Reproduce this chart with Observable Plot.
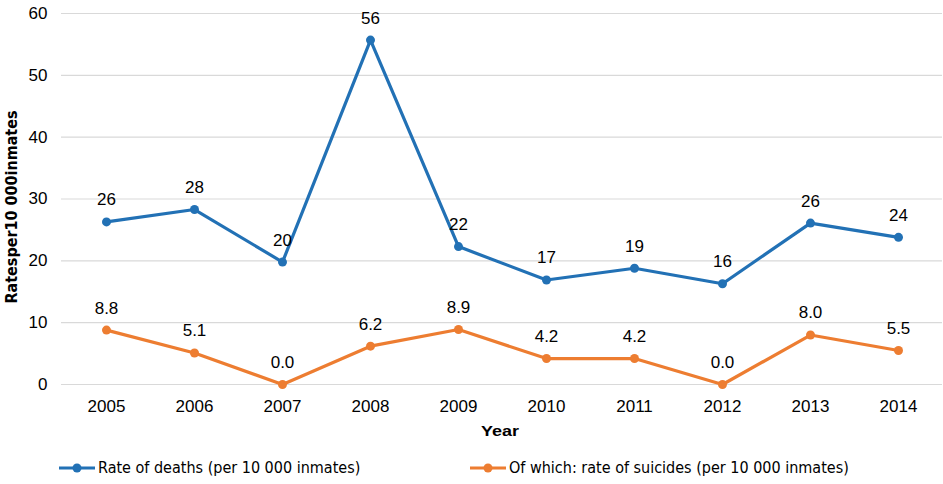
<!DOCTYPE html>
<html><head><meta charset="utf-8">
<script src="https://cdn.jsdelivr.net/npm/d3@7"></script>
<script src="https://cdn.jsdelivr.net/npm/@observablehq/plot@0.6"></script>
<style>
body{margin:0;background:#fff;font-family:"Liberation Sans",Arial,sans-serif;}
#wrap{position:relative;width:943px;height:484px;}
.leg{position:absolute;top:458px;display:flex;align-items:center;font-family:"Liberation Sans Narrow","DejaVu Sans Condensed",sans-serif;font-size:16px;color:#000;white-space:nowrap;}
.leg svg{margin-right:3px;}
</style>
</head><body><div id="wrap"><div id="chart"></div></div>
<script>
const years = ["2005","2006","2007","2008","2009","2010","2011","2012","2013","2014"];
const deathRates = [26.3, 28.3, 19.8, 55.7, 22.3, 16.9, 18.8, 16.3, 26.1, 23.8];
const deathLabels = ["26","28","20","56","22","17","19","16","26","24"];
const suicideRates = [8.8, 5.1, 0.0, 6.2, 8.9, 4.2, 4.2, 0.0, 8.0, 5.5];
const suicideLabels = ["8.8","5.1","0.0","6.2","8.9","4.2","4.2","0.0","8.0","5.5"];
const yTicks = [0, 10, 20, 30, 40, 50, 60];
const seriesNames = ["Rate of deaths (per 10 000 inmates)", "Of which: rate of suicides (per 10 000 inmates)"];
const seriesColors = ["#2271B5", "#ED7D31"];
const yTitle = "Ratesper10 000inmates";
const xTitle = "Year";

const deaths = years.map((y, i) => ({year: y, value: deathRates[i], label: deathLabels[i]}));
const suicides = years.map((y, i) => ({year: y, value: suicideRates[i], label: suicideLabels[i]}));

const W = 943, H = 445;
const chart = Plot.plot({
  width: W, height: H,
  marginLeft: 61, marginRight: 1, marginTop: 13, marginBottom: 61,
  style: {fontFamily: '"Liberation Sans", Arial, sans-serif', fontSize: "17px", color: "#000", background: "#fff"},
  x: {type: "point", domain: years, padding: 0.5, label: null},
  y: {domain: [0, 60], label: null},
  marks: [
    Plot.gridY(yTicks, {stroke: "#d9d9d9", strokeOpacity: 1, strokeWidth: 1.2}),
    Plot.axisY(yTicks, {tickSize: 0, tickPadding: 14, fontSize: 17, label: null}),
    Plot.axisX({tickSize: 0, tickPadding: 15, fontSize: 17, label: null}),
    Plot.line(deaths, {x: "year", y: "value", stroke: seriesColors[0], strokeWidth: 3.2}),
    Plot.dot(deaths, {x: "year", y: "value", r: 4.5, fill: seriesColors[0]}),
    Plot.line(suicides, {x: "year", y: "value", stroke: seriesColors[1], strokeWidth: 3.2}),
    Plot.dot(suicides, {x: "year", y: "value", r: 4.5, fill: seriesColors[1]}),
    Plot.text(deaths, {x: "year", y: "value", text: "label", dy: -22, fontSize: 17, fill: "#000"}),
    Plot.text(suicides, {x: "year", y: "value", text: "label", dy: -22, fontSize: 17, fill: "#000"})
  ]
});
document.getElementById("chart").appendChild(chart);

const svg = d3.select(chart);
svg.append("text")
  .attr("transform", "translate(17,207) rotate(-90)")
  .attr("text-anchor", "middle")
  .attr("font-family", '"Liberation Sans Narrow","DejaVu Sans Condensed",sans-serif')
  .attr("font-weight", "bold").attr("font-size", 16)
  .attr("textLength", 193).attr("lengthAdjust", "spacingAndGlyphs")
  .text(yTitle);
svg.append("text")
  .attr("x", 500).attr("y", 436)
  .attr("text-anchor", "middle")
  .attr("font-family", '"Liberation Sans","DejaVu Sans",sans-serif')
  .attr("font-weight", "bold").attr("font-size", 15)
  .attr("textLength", 38).attr("lengthAdjust", "spacingAndGlyphs")
  .text(xTitle);

const legendX = [59, 470];
const wrap = document.getElementById("wrap");
seriesNames.forEach((name, i) => {
  const d = document.createElement("div");
  d.className = "leg";
  d.style.left = legendX[i] + "px";
  d.innerHTML = `<svg width="36" height="18"><line x1="0" x2="36" y1="9" y2="9" stroke="${seriesColors[i]}" stroke-width="3.2"/><circle cx="18" cy="9" r="4.5" fill="${seriesColors[i]}"/></svg><span>${name}</span>`;
  wrap.appendChild(d);
});
</script>
</body></html>
